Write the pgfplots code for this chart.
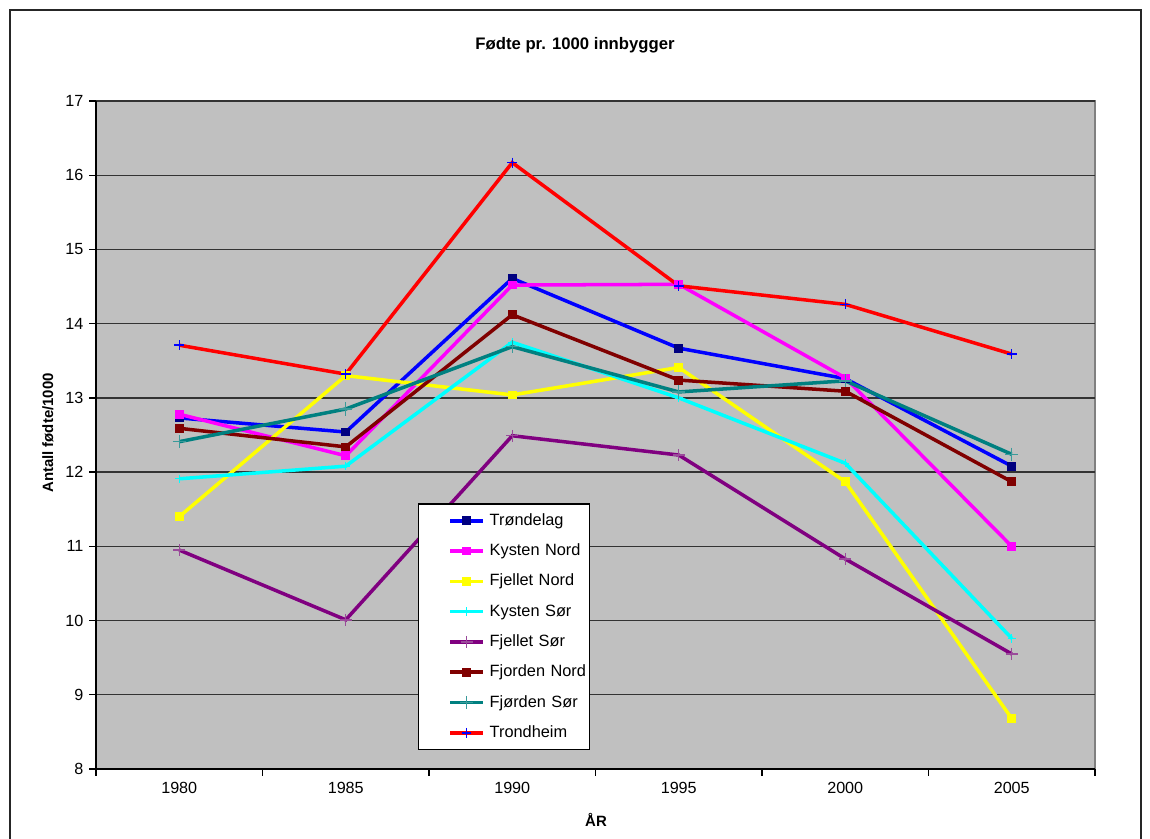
\documentclass[border=0pt]{standalone}
\usepackage{fontspec}
\setmainfont{Liberation Sans}
\usepackage{pgfplots}
\pgfplotsset{compat=1.18}
\definecolor{plotbg}{HTML}{C0C0C0}
\definecolor{gridc}{HTML}{333333}
\definecolor{navyc}{HTML}{000080}
\definecolor{magc}{HTML}{FF00FF}
\definecolor{yelc}{HTML}{FFFF00}
\definecolor{cyac}{HTML}{00FFFF}
\definecolor{purc}{HTML}{800080}
\definecolor{purm}{HTML}{9A4A9A}
\definecolor{marc}{HTML}{800000}
\definecolor{teac}{HTML}{008080}
\definecolor{team}{HTML}{3A9A9A}
\begin{document}
\begin{tikzpicture}
\useasboundingbox (0,0) rectangle (23,16.76);
\draw[line width=0.04cm, black!85] (0.19,16.56) rectangle (22.82,-1);
\node[font=\fontsize{9.5}{11}\selectfont\bfseries] at (11.5,15.86) {Fødte pr. 1000 innbygger};
\node[font=\fontsize{8.5}{10}\selectfont\bfseries] at (11.92,0.36) {ÅR};
\node[font=\fontsize{8.5}{10}\selectfont\bfseries, rotate=90] at (0.96,8.1) {Antall fødte/1000};
\begin{axis}[
  at={(1.92cm,1.38cm)}, anchor=south west,
  width=19.98cm, height=13.36cm, scale only axis,
  xmin=-0.5, xmax=5.5, ymin=8, ymax=17,
  xtick={-0.5,0.5,...,5.5},
  x tick label as interval,
  xticklabels={1980,1985,1990,1995,2000,2005},
  ytick={8,9,...,17},
  axis x line=bottom, axis y line=left,
  axis line style={-, black, line width=0.9pt},
  axis background/.style={fill=plotbg, draw=black!50, line width=0.8pt},
  ymajorgrids, major grid style={gridc, line width=0.8pt},
  tick align=outside, major tick length=0.13cm,
  tick style={black, line width=0.8pt},
  tick label style={font=\fontsize{9.2}{11}\selectfont},
  /pgf/number format/assume math mode=true,
  every axis plot/.append style={line width=2pt},
  legend image code/.code={\path (-0.54cm,0) (0.74cm,0);\draw[mark repeat=2,mark phase=2,#1] plot coordinates {(0cm,0cm) (0.33cm,0cm) (0.66cm,0cm)};},
  legend style={at={(0.3223,0.398)}, anchor=north west, draw=black, line width=0.8pt, fill=white,
    font=\fontsize{9.3}{11}\selectfont, row sep=0pt, inner xsep=1.5pt, inner ysep=1pt,
    nodes={text width=1.93cm, minimum height=0.606cm, inner xsep=0.5pt, inner ysep=0pt}},
  legend cell align=left,
]
\addplot[color=blue, mark=square*, mark options={solid, fill=navyc, draw=navyc, line width=0.5pt}, mark size=2.2pt]
  coordinates {(0,12.73) (1,12.54) (2,14.61) (3,13.67) (4,13.26) (5,12.08)};
\addlegendentry{Trøndelag}
\addplot[color=magc, mark=square*, mark options={solid, fill=magc, draw=magc, line width=0.5pt}, mark size=2.2pt]
  coordinates {(0,12.78) (1,12.22) (2,14.52) (3,14.53) (4,13.27) (5,11.00)};
\addlegendentry{Kysten Nord}
\addplot[color=yelc, mark=square*, mark options={solid, fill=yelc, draw=yelc, line width=0.5pt}, mark size=2.2pt]
  coordinates {(0,11.40) (1,13.30) (2,13.04) (3,13.41) (4,11.87) (5,8.68)};
\addlegendentry{Fjellet Nord}
\addplot[color=cyac, mark=+, mark options={solid, draw=cyac, line width=0.8pt}, mark size=2.4pt]
  coordinates {(0,11.91) (1,12.08) (2,13.75) (3,13.00) (4,12.12) (5,9.76)};
\addlegendentry{Kysten Sør}
\addplot[color=purc, mark=+, mark options={solid, draw=purm, line width=0.8pt}, mark size=3.4pt]
  coordinates {(0,10.95) (1,10.01) (2,12.49) (3,12.23) (4,10.83) (5,9.55)};
\addlegendentry{Fjellet Sør}
\addplot[color=marc, mark=square*, mark options={solid, fill=marc, draw=marc, line width=0.5pt}, mark size=2.2pt]
  coordinates {(0,12.59) (1,12.34) (2,14.12) (3,13.24) (4,13.09) (5,11.87)};
\addlegendentry{Fjorden Nord}
\addplot[color=teac, mark=+, mark options={solid, draw=team, line width=0.8pt}, mark size=3.8pt]
  coordinates {(0,12.41) (1,12.85) (2,13.69) (3,13.08) (4,13.23) (5,12.24)};
\addlegendentry{Fjørden Sør}
\addplot[color=red, mark=+, mark options={solid, draw=blue, line width=0.8pt}, mark size=2.8pt]
  coordinates {(0,13.71) (1,13.32) (2,16.17) (3,14.51) (4,14.26) (5,13.59)};
\addlegendentry{Trondheim}
\end{axis}
\end{tikzpicture}
\end{document}
